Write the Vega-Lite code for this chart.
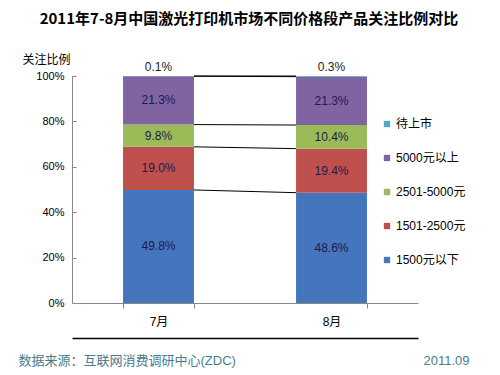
{
  "$schema": "https://vega.github.io/schema/vega-lite/v6.json",
  "autosize": {"type": "none"},
  "width": 346,
  "height": 227,
  "padding": {"left": 72, "top": 76, "right": 82, "bottom": 72},
  "background": "white",
  "title": {"text": "2011年7-8月中国激光打印机市场不同价格段产品关注比例对比", "font": "Noto Sans CJK SC", "fontSize": 15, "fontWeight": "bold", "color": "#000", "anchor": "middle", "dx": 4, "offset": 26, "frame": "group"},
  "config": {"view": {"stroke": null}, "font": "Liberation Sans, Noto Sans CJK SC"},
  "datasets": {
    "d": [
      {"month": "7月", "cat": "1500元以下", "k": 1, "pct": 49.8},
      {"month": "7月", "cat": "1501-2500元", "k": 2, "pct": 19.0},
      {"month": "7月", "cat": "2501-5000元", "k": 3, "pct": 9.8},
      {"month": "7月", "cat": "5000元以上", "k": 4, "pct": 21.3},
      {"month": "7月", "cat": "待上市", "k": 5, "pct": 0.1},
      {"month": "8月", "cat": "1500元以下", "k": 1, "pct": 48.6},
      {"month": "8月", "cat": "1501-2500元", "k": 2, "pct": 19.4},
      {"month": "8月", "cat": "2501-5000元", "k": 3, "pct": 10.4},
      {"month": "8月", "cat": "5000元以上", "k": 4, "pct": 21.3},
      {"month": "8月", "cat": "待上市", "k": 5, "pct": 0.3}
    ]
  },
  "layer": [
    {
      "data": {"name": "d"},
      "transform": [
        {"stack": "pct", "groupby": ["month"], "sort": [{"field": "k", "order": "ascending"}], "as": ["y0", "y1"]},
        {"calculate": "format(datum.pct, '.1f') + '%'", "as": "label"},
        {"calculate": "(datum.y0 + datum.y1) / 2", "as": "mid"}
      ],
      "layer": [
        {
          "mark": {"type": "bar"},
          "encoding": {
            "x": {"field": "month", "type": "nominal", "scale": {"domain": ["7月", "8月"], "paddingInner": 0.59, "paddingOuter": 0.295},
              "axis": {"title": null, "labelAngle": 0, "domainColor": "#888", "tickColor": "#888", "tickBand": "extent", "tickSize": 5, "labelFontSize": 12, "labelPadding": 8, "labelColor": "#000"}},
            "y": {"field": "y0", "type": "quantitative", "scale": {"domain": [0, 100], "nice": false},
              "axis": {"values": [0, 20, 40, 60, 80, 100], "labelExpr": "datum.value + '%'", "domainColor": "#888", "tickColor": "#888", "tickSize": -4, "grid": false, "labelFontSize": 11, "labelColor": "#000", "labelPadding": 12, "title": "关注比例", "titleAngle": 0, "titleX": -50, "titleY": -17, "titleAlign": "left", "titleBaseline": "middle", "titleFontWeight": "normal", "titleFontSize": 12, "titleColor": "#000"}},
            "y2": {"field": "y1"},
            "color": {"field": "cat", "type": "nominal",
              "scale": {"domain": ["待上市", "5000元以上", "2501-5000元", "1501-2500元", "1500元以下"], "range": ["#4BACC6", "#8064A2", "#9BBB59", "#C0504D", "#4475BD"]},
              "legend": {"orient": "none", "legendX": 309, "legendY": 42, "title": null, "symbolType": "square", "symbolSize": 40, "labelFontSize": 12, "rowPadding": 22, "labelOffset": 3, "padding": 0, "labelColor": "#000"}}
          }
        },
        {
          "transform": [{"filter": "datum.cat !== '待上市'"}],
          "mark": {"type": "text", "fontSize": 12, "color": "#1b1b4b"},
          "encoding": {
            "x": {"field": "month", "type": "nominal"},
            "y": {"field": "mid", "type": "quantitative"},
            "text": {"field": "label"}
          }
        },
        {
          "transform": [{"filter": "datum.cat === '待上市'"}],
          "mark": {"type": "text", "fontSize": 12, "color": "#222", "dy": -9},
          "encoding": {
            "x": {"field": "month", "type": "nominal"},
            "y": {"field": "y1", "type": "quantitative"},
            "text": {"field": "label"}
          }
        },
        {
          "transform": [
            {"pivot": "month", "value": "y1", "groupby": ["cat"]},
            {"calculate": "'7月'", "as": "a"},
            {"calculate": "'8月'", "as": "b"}
          ],
          "mark": {"type": "rule", "color": "#000", "strokeWidth": 1},
          "encoding": {
            "x": {"field": "a", "type": "nominal", "bandPosition": 1},
            "x2": {"field": "b", "bandPosition": 0},
            "y": {"field": "7月", "type": "quantitative"},
            "y2": {"field": "8月"}
          }
        }
      ]
    },
    {
      "data": {"values": [{"f": "a", "g": 0}]},
      "mark": {"type": "point", "opacity": 0},
      "encoding": {
        "x": {"field": "f", "type": "nominal", "axis": {"orient": "bottom", "offset": 35, "domainColor": "#000", "domainWidth": 1.5, "labels": false, "ticks": false, "title": "数据来源：互联网消费调研中心(ZDC)", "titleX": -54, "titleY": 22, "titleAlign": "left", "titleBaseline": "middle", "titleFontWeight": "normal", "titleFontSize": 13, "titleColor": "#4A7C8C"}},
        "y": {"field": "g", "type": "quantitative", "axis": {"orient": "right", "domain": false, "labels": false, "ticks": false, "grid": false, "title": "2011.09", "titleAngle": 0, "titleX": 5, "titleY": 284, "titleAlign": "left", "titleBaseline": "middle", "titleFontWeight": "normal", "titleFontSize": 13, "titleColor": "#4A7C8C"}}
      }
    }
  ],
  "resolve": {"scale": {"x": "independent", "y": "independent"}}
}
